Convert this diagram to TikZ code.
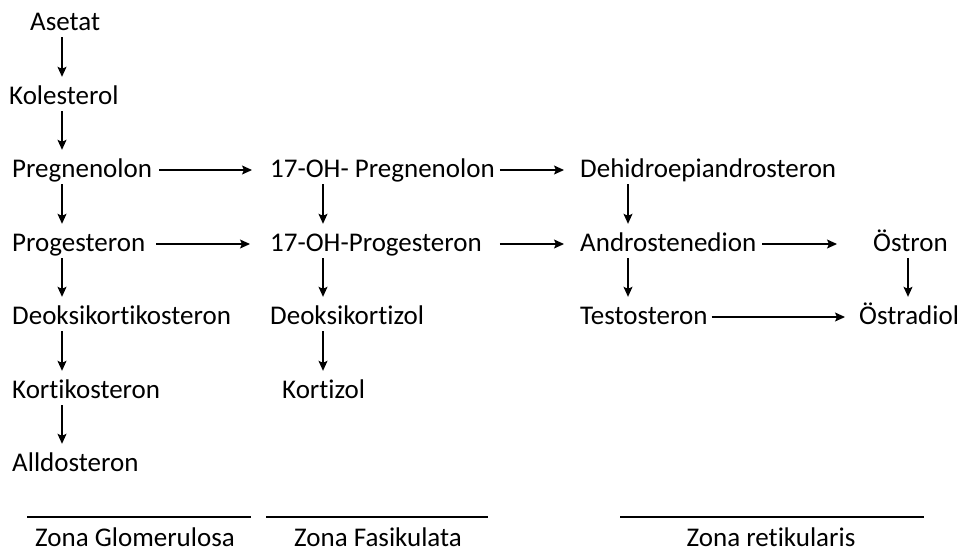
\documentclass[tikz,border=0pt]{standalone}
\usepackage{fontspec}
\setmainfont{Carlito}[Ligatures=NoCommon]
\usetikzlibrary{arrows.meta}

\begin{document}
\begin{tikzpicture}
  [x=1pt,y=-1pt,font=\fontsize{27}{32}\selectfont,
   every node/.style={anchor=base west,inner xsep=0pt,inner ysep=4pt,text height=17pt,text depth=3pt},
   arr/.style={-{Stealth[length=10pt,width=9pt,inset=2pt]},line width=1.2pt}]
  \useasboundingbox (0,0) rectangle (961,552);
  \coordinate (xa) at (62,0);
  \coordinate (xb) at (323,0);
  \coordinate (xc) at (628,0);
  \coordinate (xd) at (908,0);
  \node (na) at (30,30)  {Asetat};
  \node (nb) at (9,104)  {Kolesterol};
  \node (nc) at (12,177) {Pregnenolon};
  \node (nd) at (12,251) {Progesteron};
  \node (ne) at (12,324) {Deoksikortikosteron};
  \node (nf) at (12,398) {Kortikosteron};
  \node (ng) at (12,471) {Alldosteron};
  \node (nC) at (270,177) {17-OH- Pregnenolon};
  \node (nD) at (270,251) {17-OH-Progesteron};
  \node (nE) at (270,324) {Deoksikortizol};
  \node (nF) at (282,398) {Kortizol};
  \node (mC) at (580,177) {Dehidroepiandrosteron};
  \node (mD) at (580,251) {Androstenedion};
  \node (mE) at (580,324) {Testosteron};
  \node (kD) at (873,251) {Östron};
  \node (kE) at (859,324) {Östradiol};
  \node[anchor=base] (zg) at (135,546) {Zona Glomerulosa};
  \node[anchor=base] (zf) at (378,546) {Zona Fasikulata};
  \node[anchor=base] (zr) at (771,546) {Zona retikularis};
    \foreach \from/\to/\x in {na/nb/xa,nb/nc/xa,nc/nd/xa,nd/ne/xa,ne/nf/xa,nf/ng/xa,nC/nD/xb,nD/nE/xb,nE/nF/xb,mC/mD/xc,mD/mE/xc,kD/kE/xd}
    \draw[arr,shorten >=6pt] (\from.south -| \x) -- (\to.north -| \x);
    \foreach \from/\to/\a/\b in {nc/nC/7/18,nd/nD/11/20,nC/mC/5/16,nD/mD/18/16,mD/kD/6/36,mE/kE/4/14}
    \draw[arr,shorten <=\a pt,shorten >=\b pt] (\from.east) -- (\to.west);
  % zone bars
  \draw[line width=1.3pt] (27,517) -- (251,517);
  \draw[line width=1.3pt] (266,517) -- (488,517);
  \draw[line width=1.3pt] (620,517) -- (924,517);
  \end{tikzpicture}
\end{document}
